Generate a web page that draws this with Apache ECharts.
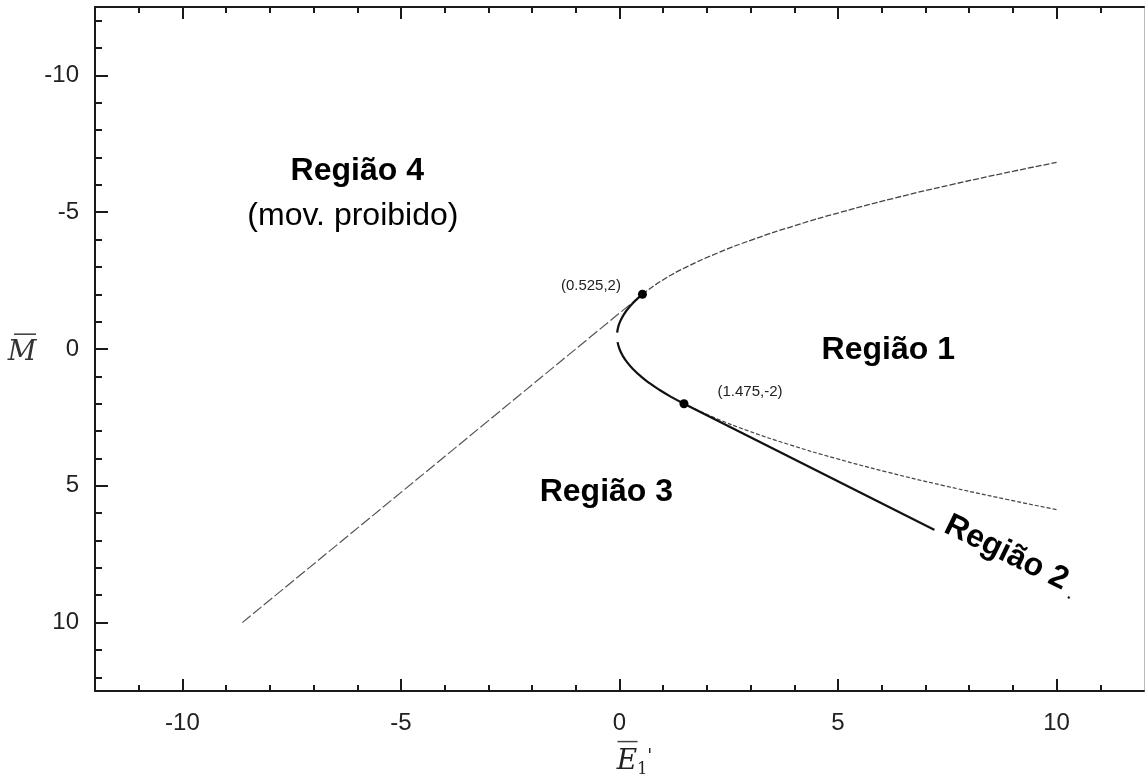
<!DOCTYPE html>
<html>
<head>
<meta charset="utf-8">
<script src="https://cdn.jsdelivr.net/npm/echarts@6/dist/echarts.min.js"></script>
<style>
html,body{margin:0;padding:0;background:#fff;}
#chart{width:1145px;height:782px;}
</style>
</head>
<body>
<div id="chart"></div>
<script>
// ---- data (axis coordinates) ----
const xMajorTicks = [-10, -5, 0, 5, 10];
const xMinorTicks = [-11, -9, -8, -7, -6, -4, -3, -2, -1, 1, 2, 3, 4, 6, 7, 8, 9, 11];
const yMajorTicks = [-10, -5, 0, 5, 10];
const yMinorTicks = [-12, -11, -9, -8, -7, -6, -4, -3, -2, -1, 1, 2, 3, 4, 6, 7, 8, 9, 11, 12];

// upper branch of the curve, thin dashed part
const upperDashed = [[0.525,-2],[0.969,-2.5],[1.538,-3],[2.231,-3.5],[3.05,-4],[3.994,-4.5],[5.063,-5],[6.256,-5.5],[7.575,-6],[9.019,-6.5],[10.0,-6.82]];
// upper branch, solid part near the vertex
const upperSolid = [[0.525,-2],[0.35,-1.75],[0.206,-1.5],[0.094,-1.25],[0.013,-1.0],[-0.03,-0.8],[-0.053,-0.6]];
// lower branch, solid part
const lowerSolid = [[-0.044,-0.25],[0,0],[0.075,0.25],[0.181,0.5],[0.319,0.75],[0.488,1.0],[0.688,1.25],[0.919,1.5],[1.181,1.75],[1.475,2]];
// lower branch, thin dotted part
const lowerDashed = [[1.475,2],[2.156,2.5],[2.963,3],[3.894,3.5],[4.95,4],[6.131,4.5],[7.438,5],[8.869,5.5],[10.0,5.87]];
// straight solid line (Região 2 boundary)
const tangentSolid = [[1.475,2],[10.3,9.1]];
// straight dashed line (Região 3 / Região 4 boundary)
const tangentDashed = [[-8.63,10],[0.525,-2]];

const markedPoints = [[0.525,-2],[1.475,2]];
const markedTexts = ['(0.525,2)', '(1.475,-2)'];

const regionTexts = ['Região 4', '(mov. proibido)', 'Região 1', 'Região 3', 'Região 2'];
const regionAnchors = [[-6.0,-6.5],[-6.1,-4.85],[6.15,0.05],[-0.3,5.25],[8.85,7.45]];

// ---- chart ----
const FONT = 'Liberation Sans, Arial, sans-serif';
const SERIF = 'DejaVu Serif, Liberation Serif, serif';
const AXIS_COLOR = '#1a1a1a';

function xAx(pos, ticks, len, showLine, showLabel, extra) {
  return Object.assign({
    type: 'value', position: pos, min: -12, max: 12,
    axisLine: { show: showLine, onZero: false, lineStyle: { color: AXIS_COLOR, width: 2 } },
    axisTick: { show: true, inside: true, length: len, customValues: ticks, lineStyle: { color: AXIS_COLOR, width: 2 } },
    axisLabel: showLabel ? { show: true, customValues: ticks, fontSize: 24, color: '#222', fontFamily: FONT, margin: 20 } : { show: false },
    splitLine: { show: false }
  }, extra || {});
}
function yAx(pos, ticks, len, showLine, showLabel, extra) {
  return Object.assign({
    type: 'value', position: pos, min: -12.5, max: 12.5, inverse: true,
    axisLine: { show: showLine, onZero: false, lineStyle: { color: AXIS_COLOR, width: 2 } },
    axisTick: { show: ticks.length > 0, inside: true, length: len, customValues: ticks, lineStyle: { color: AXIS_COLOR, width: 2 } },
    axisLabel: showLabel ? { show: true, customValues: ticks, fontSize: 24, color: '#222', fontFamily: FONT, margin: 16 } : { show: false },
    splitLine: { show: false }
  }, extra || {});
}

const lineSeries = (data, color, width, type) => ({
  type: 'line', data: data, xAxisIndex: 0, yAxisIndex: 0,
  symbol: 'none', smooth: true, silent: true,
  lineStyle: { color: color, width: width, type: type },
  z: 3
});

const option = {
  animation: false,
  backgroundColor: '#fff',
  grid: { left: 95, right: 1, top: 7, bottom: 91, containLabel: false, outerBoundsMode: 'none' },
  xAxis: [
    xAx('bottom', xMajorTicks, 12, true, true, {
      name: '{o|\u2014}\n{e|E}{s|1}{p|\'}',
      nameLocation: 'middle', nameGap: 47, nameMoveOverlap: false,
      nameTextStyle: {
        padding: [0, 0, 0, 30],
        rich: {
          o: { fontFamily: SERIF, fontSize: 22, color: '#444', lineHeight: 8, align: 'center', padding: [0, 14, 0, 0] },
          e: { fontFamily: SERIF, fontStyle: 'italic', fontSize: 28, color: '#222', lineHeight: 28 },
          s: { fontFamily: SERIF, fontSize: 16, color: '#222', padding: [16, 0, 0, 0] },
          p: { fontFamily: SERIF, fontSize: 18, color: '#222', padding: [0, 0, 10, 0] }
        }
      }
    }),
    xAx('bottom', xMinorTicks, 6, false, false),
    xAx('top', xMajorTicks, 12, true, false),
    xAx('top', xMinorTicks, 6, false, false)
  ],
  yAxis: [
    yAx('left', yMajorTicks, 13, true, true, {
      name: '{o|\u2014}\n{m|M}',
      nameLocation: 'middle', nameGap: 58, nameRotate: 0, nameMoveOverlap: false,
      nameTextStyle: {
        align: 'right',
        rich: {
          o: { fontFamily: SERIF, fontSize: 24, color: '#444', lineHeight: 8, align: 'center', padding: [0, 0, 0, 6] },
          m: { fontFamily: SERIF, fontStyle: 'italic', fontSize: 28, color: '#333', lineHeight: 28, align: 'center' }
        }
      }
    }),
    yAx('left', yMinorTicks, 7, false, false),
    yAx('right', [], 0, true, false, { axisLine: { show: true, onZero: false, lineStyle: { color: '#bbb', width: 1 } } })
  ],
  series: [
    lineSeries(tangentDashed, '#555', 1.2, [11, 3]),
    lineSeries(upperDashed, '#444', 1.3, [6, 2]),
    lineSeries(lowerDashed, '#444', 1.2, [4, 2]),
    lineSeries(upperSolid, '#111', 2.2, 'solid'),
    lineSeries(lowerSolid, '#111', 2.2, 'solid'),
    lineSeries(tangentSolid, '#111', 2.2, 'solid'),
    {
      type: 'scatter', xAxisIndex: 0, yAxisIndex: 0, silent: true, z: 5,
      symbol: 'circle', symbolSize: 9,
      itemStyle: { color: '#000', opacity: 1 },
      data: markedPoints.map((p, i) => ({
        value: p,
        label: {
          show: true, formatter: markedTexts[i],
          position: i === 0 ? 'left' : 'right',
          distance: i === 0 ? 17 : 29,
          offset: i === 0 ? [0, -8] : [0, -12],
          fontSize: 15, color: '#222', fontFamily: FONT
        }
      }))
    },
    {
      type: 'scatter', xAxisIndex: 0, yAxisIndex: 0, silent: true, z: 10,
      symbol: 'circle', symbolSize: 1,
      itemStyle: { color: '#fff', opacity: 1 },
      data: regionAnchors.map((p, i) => ({
        value: p,
        label: {
          show: true, formatter: regionTexts[i], position: 'inside',
          fontSize: 32,
          fontWeight: i === 1 ? 'normal' : 'bold',
          fontFamily: FONT, color: '#000',
          rotate: i === 4 ? -26 : 0,
          backgroundColor: i === 4 ? '#fff' : 'transparent',
          padding: i === 4 ? [2, 8, 12, 8] : 0
        }
      }))
    }
  ]
};

const chart = echarts.init(document.getElementById('chart'), null, { renderer: 'canvas' });
chart.setOption(option);
</script>
</body>
</html>
